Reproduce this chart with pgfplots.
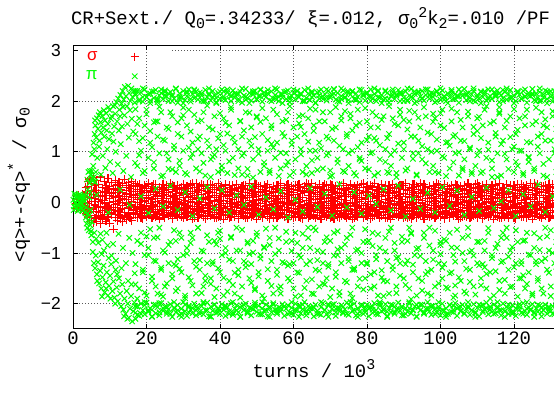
\documentclass[border=0pt]{standalone}
\usepackage{fontspec}
\setmainfont{Liberation Sans}
\newfontfamily\monofont{Liberation Mono}
\usepackage{pgfplots}
\pgfplotsset{compat=1.18}
\usepackage{pgfplotstable}

\definecolor{gpred}{RGB}{255,0,0}
\definecolor{gpgreen}{RGB}{0,255,0}

\newcommand\subs[1]{\raisebox{-3.5bp}{\fontsize{15}{15}\selectfont#1}}
\newcommand\sups[1]{\raisebox{7.5bp}{\fontsize{15}{15}\selectfont#1}}

% sigma mode centroid, six samples per half-turn step
\pgfplotstableread{
x r1 r2 r3 r4 r5 r6
1.0 -0.12 -0.03 0.06 0.13 nan nan
1.5 -0.09 0.01 0.08 0.15 nan nan
2.0 -0.14 -0.05 0.04 0.11 nan nan
2.5 -0.1 0.0 0.09 0.16 nan nan
3.0 -0.16 -0.06 0.05 0.14 nan nan
3.5 -0.22 -0.08 0.12 0.3 0.0 -0.15
4.0 -0.28 -0.02 0.18 0.41 -0.3 0.31
4.5 -0.19 -0.11 0.09 0.46 0.1 -0.26
5.0 -0.35 0.01 0.22 0.38 0.24 0.07
5.5 -0.4 -0.14 0.15 0.49 -0.12 0.22
6.0 -0.31 -0.05 0.07 0.33 0.36 -0.06
6.5 -0.38 -0.18 0.24 0.44 -0.18 0.35
7.0 -0.26 0.02 0.19 0.36 0.05 -0.2
7.5 -0.42 -0.09 0.11 0.5 -0.27 0.14
8.0 -0.33 -0.16 0.04 0.29 0.2 -0.31
8.5 -0.24 -0.01 0.21 0.42 -0.08 0.04
9.0 -0.37 -0.12 0.13 0.34 0.3 0.27
9.5 -0.29 -0.07 0.25 0.47 -0.14 -0.11
10.0 -0.41 0.0 0.08 0.31 0.13 0.19
10.5 -0.21 -0.15 0.17 0.39 -0.24 -0.24
11.0 -0.53 -0.1 0.2 0.27 0.02 0.11
11.5 -0.3 -0.04 0.1 0.43 0.26 0.33
12.0 -0.36 -0.17 0.23 0.35 -0.1 -0.02
12.5 -0.25 0.03 0.14 0.4 0.34 -0.17
13.0 -0.32 -0.13 0.06 0.3 -0.2 0.25
13.5 -0.38 -0.06 0.19 0.37 0.08 0.0
14.0 -0.27 -0.2 0.12 0.45 -0.29 -0.28
14.5 -0.34 -0.02 0.24 0.33 0.18 0.16
15.0 -0.23 -0.11 0.05 0.39 -0.03 0.29
15.5 -0.31 -0.08 0.16 0.28 0.28 -0.09
16.0 -0.36 0.01 0.22 0.41 -0.05 0.09
16.5 -0.2 -0.15 0.09 0.34 0.16 -0.21
17.0 -0.24 -0.09 0.13 0.31 -0.22 0.37
17.5 -0.3 0.0 0.06 0.25 0.33 -0.13
18.0 -0.18 -0.13 0.17 0.36 0.0 0.21
18.5 -0.27 -0.04 0.09 0.22 -0.3 -0.04
19.0 -0.32 -0.11 0.19 0.29 0.1 -0.15
19.5 -0.21 0.02 0.03 0.34 0.24 0.31
20.0 -0.29 -0.07 0.14 0.27 -0.12 -0.26
20.5 -0.16 -0.15 0.1 0.37 0.36 0.07
21.0 -0.25 -0.02 0.2 0.23 -0.18 0.22
21.5 -0.31 -0.1 0.05 0.32 0.05 -0.06
22.0 -0.19 -0.05 0.16 0.28 -0.27 0.35
22.5 -0.28 0.01 0.11 0.35 0.2 -0.2
23.0 -0.23 -0.14 0.07 0.21 -0.08 0.14
23.5 -0.33 -0.08 0.18 0.3 0.3 -0.31
24.0 -0.17 -0.01 0.12 0.26 -0.14 0.04
24.5 -0.26 -0.12 0.04 0.36 0.13 0.27
25.0 -0.3 -0.06 0.15 0.24 -0.24 -0.11
25.5 -0.2 -0.16 0.08 0.33 0.02 0.19
26.0 -0.27 0.0 0.19 0.29 0.26 -0.24
26.5 -0.22 -0.09 0.02 0.37 -0.1 0.11
27.0 -0.32 -0.03 0.13 0.22 0.34 0.33
27.5 -0.18 -0.13 0.1 0.31 -0.2 -0.02
28.0 -0.25 -0.07 0.17 0.27 0.08 -0.17
28.5 -0.29 0.02 0.06 0.34 -0.29 0.25
29.0 -0.16 -0.11 0.14 0.25 0.18 0.0
29.5 -0.24 -0.04 0.2 0.3 -0.03 -0.28
30.0 -0.31 -0.15 0.09 0.36 0.28 0.16
30.5 -0.21 -0.02 0.03 0.23 -0.05 0.29
31.0 -0.28 -0.1 0.16 0.32 0.16 -0.09
31.5 -0.19 -0.06 0.11 0.28 -0.22 0.09
32.0 -0.26 0.01 0.18 0.35 0.33 -0.21
32.5 -0.33 -0.12 0.05 0.21 0.0 0.37
33.0 -0.23 -0.08 0.13 0.29 -0.3 -0.13
33.5 -0.17 -0.14 0.08 0.37 0.1 0.21
34.0 -0.3 -0.03 0.19 0.26 0.24 -0.04
34.5 -0.25 -0.09 0.02 0.31 -0.12 -0.15
35.0 -0.2 0.0 0.15 0.24 0.36 0.31
35.5 -0.28 -0.16 0.1 0.33 -0.18 -0.26
36.0 -0.32 -0.05 0.07 0.27 0.05 0.07
36.5 -0.22 -0.11 0.17 0.36 -0.27 0.22
37.0 -0.18 -0.01 0.12 0.22 0.2 -0.06
37.5 -0.27 -0.13 0.04 0.3 -0.08 0.35
38.0 -0.24 -0.07 0.2 0.34 0.3 -0.2
38.5 -0.31 0.02 0.09 0.25 -0.14 0.14
39.0 -0.16 -0.1 0.14 0.29 0.13 -0.31
39.5 -0.29 -0.04 0.06 0.37 -0.24 0.04
40.0 -0.21 -0.15 0.18 0.23 0.02 0.27
40.5 -0.26 -0.06 0.11 0.32 0.26 -0.11
41.0 -0.33 -0.02 0.03 0.28 -0.1 0.19
41.5 -0.19 -0.12 0.16 0.35 0.34 -0.24
42.0 -0.25 -0.08 0.13 0.21 -0.2 0.11
42.5 -0.3 0.01 0.08 0.3 0.08 0.33
43.0 -0.17 -0.14 0.19 0.26 -0.29 -0.02
43.5 -0.23 -0.03 0.05 0.33 0.18 -0.17
44.0 -0.28 -0.09 0.15 0.24 -0.03 0.25
44.5 -0.2 -0.16 0.1 0.36 0.28 0.0
45.0 -0.32 0.0 0.17 0.29 -0.05 -0.28
45.5 -0.24 -0.11 0.02 0.22 0.16 0.16
46.0 -0.18 -0.05 0.12 0.31 -0.22 0.29
46.5 -0.27 -0.13 0.07 0.27 0.33 -0.09
47.0 -0.31 -0.01 0.2 0.34 0.0 0.09
47.5 -0.22 -0.07 0.14 0.25 -0.3 -0.21
48.0 -0.16 -0.15 0.04 0.37 0.1 0.37
48.5 -0.29 -0.04 0.18 0.23 0.24 -0.13
49.0 -0.25 0.02 0.09 0.3 -0.12 0.21
49.5 -0.2 -0.1 0.16 0.28 0.36 -0.04
50.0 -0.33 -0.06 0.11 0.35 -0.18 -0.15
50.5 -0.26 -0.12 0.03 0.21 0.05 0.31
51.0 -0.19 -0.02 0.19 0.32 -0.27 -0.26
51.5 -0.3 -0.14 0.13 0.26 0.2 0.07
52.0 -0.23 -0.08 0.06 0.33 -0.08 0.22
52.5 -0.17 0.01 0.15 0.24 0.3 -0.06
53.0 -0.28 -0.11 0.1 0.36 -0.14 0.35
53.5 -0.32 -0.05 0.17 0.29 0.13 -0.2
54.0 -0.21 -0.16 0.08 0.22 -0.24 0.14
54.5 -0.25 -0.03 0.2 0.31 0.02 -0.31
55.0 -0.18 -0.09 0.12 0.27 0.26 0.04
55.5 -0.31 0.0 0.05 0.34 -0.1 0.27
56.0 -0.27 -0.13 0.14 0.25 0.34 -0.11
56.5 -0.22 -0.07 0.02 0.37 -0.2 0.19
57.0 -0.16 -0.01 0.18 0.23 0.08 -0.24
57.5 -0.29 -0.15 0.11 0.3 -0.29 0.11
58.0 -0.24 -0.04 0.07 0.28 0.18 0.33
58.5 -0.33 -0.1 0.16 0.35 -0.03 -0.02
59.0 -0.2 0.02 0.13 0.21 0.28 -0.17
59.5 -0.26 -0.06 0.04 0.32 -0.05 0.25
60.0 -0.3 -0.12 0.19 0.26 0.16 0.0
60.5 -0.19 -0.02 0.09 0.33 -0.22 -0.28
61.0 -0.23 -0.14 0.15 0.24 0.33 0.16
61.5 -0.28 -0.08 0.06 0.36 0.0 0.29
62.0 -0.17 0.01 0.17 0.29 -0.3 -0.09
62.5 -0.32 -0.11 0.1 0.22 0.1 0.09
63.0 -0.25 -0.05 0.2 0.31 0.24 -0.21
63.5 -0.21 -0.16 0.03 0.27 -0.12 0.37
64.0 -0.3 -0.03 0.14 0.34 0.36 -0.13
64.5 -0.27 -0.09 0.08 0.25 -0.18 0.21
65.0 -0.18 0.0 0.18 0.37 0.05 -0.04
65.5 -0.24 -0.13 0.12 0.23 -0.27 -0.15
66.0 -0.31 -0.07 0.05 0.3 0.2 0.31
66.5 -0.2 -0.01 0.16 0.28 -0.08 -0.26
67.0 -0.26 -0.15 0.11 0.35 0.3 0.07
67.5 -0.33 -0.04 0.02 0.21 -0.14 0.22
68.0 -0.22 -0.1 0.19 0.32 0.13 -0.06
68.5 -0.16 0.02 0.13 0.26 -0.24 0.35
69.0 -0.29 -0.06 0.07 0.33 0.02 -0.2
69.5 -0.25 -0.12 0.15 0.24 0.26 0.14
70.0 -0.19 -0.02 0.09 0.36 -0.1 -0.31
70.5 -0.28 -0.14 0.2 0.29 0.34 0.04
71.0 -0.32 -0.08 0.04 0.22 -0.2 0.27
71.5 -0.23 0.01 0.17 0.31 0.08 -0.11
72.0 -0.17 -0.11 0.1 0.27 -0.29 0.19
72.5 -0.3 -0.05 0.14 0.34 0.18 -0.24
73.0 -0.26 -0.16 0.06 0.25 -0.03 0.11
73.5 -0.21 -0.03 0.18 0.37 0.28 0.33
74.0 -0.27 -0.09 0.12 0.23 -0.05 -0.02
74.5 -0.31 0.0 0.03 0.3 0.16 -0.17
75.0 -0.18 -0.13 0.16 0.28 -0.22 0.25
75.5 -0.24 -0.07 0.11 0.35 0.33 0.0
76.0 -0.33 -0.01 0.19 0.21 0.0 -0.28
76.5 -0.2 -0.15 0.08 0.32 -0.3 0.16
77.0 -0.25 -0.04 0.13 0.26 0.1 0.29
77.5 -0.29 -0.1 0.05 0.33 0.24 -0.09
78.0 -0.16 0.02 0.17 0.24 -0.12 0.09
78.5 -0.22 -0.06 0.1 0.36 0.36 -0.21
79.0 -0.3 -0.12 0.2 0.29 -0.18 0.37
79.5 -0.27 -0.02 0.07 0.22 0.05 -0.13
80.0 -0.19 -0.14 0.14 0.31 -0.27 0.21
80.5 -0.23 -0.08 0.02 0.27 0.2 -0.04
81.0 -0.32 0.01 0.15 0.34 -0.08 -0.15
81.5 -0.28 -0.11 0.12 0.25 0.3 0.31
82.0 -0.17 -0.05 0.18 0.37 -0.14 -0.26
82.5 -0.25 -0.16 0.09 0.23 0.13 0.07
83.0 -0.21 -0.03 0.04 0.3 -0.24 0.22
83.5 -0.31 -0.09 0.16 0.28 0.02 -0.06
84.0 -0.26 0.0 0.11 0.35 0.26 0.35
84.5 -0.18 -0.13 0.19 0.21 -0.1 -0.2
85.0 -0.3 -0.07 0.06 0.32 0.34 0.14
85.5 -0.24 -0.01 0.13 0.26 -0.2 -0.31
86.0 -0.2 -0.15 0.17 0.33 0.08 0.04
86.5 -0.33 -0.04 0.03 0.24 -0.29 0.27
87.0 -0.27 -0.1 0.1 0.36 0.18 -0.11
87.5 -0.16 0.02 0.2 0.29 -0.03 0.19
88.0 -0.22 -0.06 0.14 0.22 0.28 -0.24
88.5 -0.29 -0.12 0.08 0.31 -0.05 0.11
89.0 -0.25 -0.02 0.15 0.27 0.16 0.33
89.5 -0.19 -0.14 0.05 0.34 -0.22 -0.02
90.0 -0.31 -0.08 0.18 0.25 0.33 -0.17
90.5 -0.28 0.01 0.12 0.37 0.0 0.25
91.0 -0.23 -0.11 0.02 0.23 -0.3 0.0
91.5 -0.17 -0.05 0.16 0.3 0.1 -0.28
92.0 -0.32 -0.16 0.09 0.28 0.24 0.16
92.5 -0.26 -0.03 0.19 0.35 -0.12 0.29
93.0 -0.21 -0.09 0.13 0.21 0.36 -0.09
93.5 -0.3 0.0 0.06 0.32 -0.18 0.09
94.0 -0.24 -0.13 0.17 0.26 0.05 -0.21
94.5 -0.18 -0.07 0.11 0.33 -0.27 0.37
95.0 -0.27 -0.01 0.04 0.24 0.2 -0.13
95.5 -0.33 -0.15 0.2 0.36 -0.08 0.21
96.0 -0.2 -0.04 0.14 0.29 0.3 -0.04
96.5 -0.25 -0.1 0.07 0.22 -0.14 -0.15
97.0 -0.29 0.02 0.15 0.31 0.13 0.31
97.5 -0.16 -0.06 0.1 0.27 -0.24 -0.26
98.0 -0.22 -0.12 0.18 0.34 0.02 0.07
98.5 -0.31 -0.02 0.03 0.25 0.26 0.22
99.0 -0.26 -0.14 0.12 0.37 -0.1 -0.06
99.5 -0.19 -0.08 0.16 0.23 0.34 0.35
100.0 -0.28 0.01 0.08 0.3 -0.2 -0.2
100.5 -0.23 -0.11 0.19 0.28 0.08 0.14
101.0 -0.32 -0.05 0.13 0.35 -0.29 -0.31
101.5 -0.17 -0.16 0.05 0.21 0.18 0.04
102.0 -0.25 -0.03 0.17 0.32 -0.03 0.27
102.5 -0.3 -0.09 0.11 0.26 0.28 -0.11
103.0 -0.21 0.0 0.02 0.33 -0.05 0.19
103.5 -0.27 -0.13 0.14 0.24 0.16 -0.24
104.0 -0.18 -0.07 0.2 0.36 -0.22 0.11
104.5 -0.24 -0.01 0.09 0.29 0.33 0.33
105.0 -0.33 -0.15 0.15 0.22 0.0 -0.02
105.5 -0.2 -0.04 0.06 0.31 -0.3 -0.17
106.0 -0.29 -0.1 0.18 0.27 0.1 0.25
106.5 -0.26 0.02 0.12 0.34 0.24 0.0
107.0 -0.16 -0.06 0.04 0.25 -0.12 -0.28
107.5 -0.22 -0.12 0.16 0.37 0.36 0.16
108.0 -0.31 -0.02 0.1 0.23 -0.18 0.29
108.5 -0.28 -0.14 0.19 0.3 0.05 -0.09
109.0 -0.19 -0.08 0.07 0.28 -0.27 0.09
109.5 -0.25 0.01 0.13 0.35 0.2 -0.21
110.0 -0.3 -0.11 0.03 0.21 -0.08 0.37
110.5 -0.23 -0.05 0.17 0.32 0.3 -0.13
111.0 -0.17 -0.16 0.11 0.26 -0.14 0.21
111.5 -0.32 -0.03 0.2 0.33 0.13 -0.04
112.0 -0.27 -0.09 0.08 0.24 -0.24 -0.15
112.5 -0.21 0.0 0.14 0.36 0.02 0.31
113.0 -0.29 -0.13 0.05 0.29 0.26 -0.26
113.5 -0.24 -0.07 0.18 0.22 -0.1 0.07
114.0 -0.18 -0.01 0.12 0.31 0.34 0.22
114.5 -0.33 -0.15 0.02 0.27 -0.2 -0.06
115.0 -0.26 -0.04 0.16 0.34 0.08 0.35
115.5 -0.2 -0.1 0.09 0.25 -0.29 -0.2
116.0 -0.3 0.02 0.19 0.37 0.18 0.14
116.5 -0.22 -0.06 0.13 0.23 -0.03 -0.31
117.0 -0.16 -0.12 0.06 0.3 0.28 0.04
117.5 -0.28 -0.02 0.15 0.28 -0.05 0.27
118.0 -0.25 -0.14 0.1 0.35 0.16 -0.11
118.5 -0.31 -0.08 0.17 0.21 -0.22 0.19
119.0 -0.19 0.01 0.04 0.32 0.33 -0.24
119.5 -0.23 -0.11 0.2 0.26 0.0 0.11
120.0 -0.27 -0.05 0.11 0.33 -0.3 0.33
120.5 -0.32 -0.16 0.07 0.24 0.1 -0.02
121.0 -0.21 -0.03 0.14 0.36 0.24 -0.17
121.5 -0.17 -0.09 0.18 0.29 -0.12 0.25
122.0 -0.29 0.0 0.03 0.22 0.36 0.0
122.5 -0.26 -0.13 0.16 0.31 -0.18 -0.28
123.0 -0.2 -0.07 0.12 0.27 0.05 0.16
123.5 -0.3 -0.01 0.08 0.34 -0.27 0.29
124.0 -0.24 -0.15 0.19 0.25 0.2 -0.09
124.5 -0.18 -0.04 0.05 0.37 -0.08 0.09
125.0 -0.33 -0.1 0.15 0.23 0.3 -0.21
125.5 -0.27 0.02 0.1 0.3 -0.14 0.37
126.0 -0.22 -0.06 0.17 0.28 0.13 -0.13
126.5 -0.16 -0.12 0.02 0.35 -0.24 0.21
127.0 -0.28 -0.02 0.13 0.21 0.02 -0.04
127.5 -0.31 -0.14 0.2 0.32 0.26 -0.15
128.0 -0.25 -0.08 0.09 0.26 -0.1 0.31
128.5 -0.19 0.01 0.14 0.33 0.34 -0.26
129.0 -0.23 -0.11 0.06 0.24 -0.2 0.07
129.5 -0.3 -0.05 0.18 0.36 0.08 0.22
130.0 -0.26 -0.16 0.11 0.29 -0.29 -0.06
130.5 -0.2 -0.03 0.04 0.22 0.18 0.35
131.0 -0.32 -0.09 0.16 0.31 -0.03 -0.2
131.5 -0.17 0.0 0.12 0.27 0.28 0.14
132.0 -0.28 -0.13 0.19 0.34 -0.05 -0.31
132.5 -0.24 -0.07 0.08 0.25 0.16 0.04
133.0 -0.21 -0.01 0.15 0.37 -0.22 0.27
}\sigmatab

% pi mode centroid: t, b, f = outer bands; u, u2, l, l2 = inner orbits; e = extra
\pgfplotstableread{
x t b u l e u2 l2 f
17.0 2.12 -2.18 1.84 -1.62 2.2 1.35 -1.22 2.15
17.5 2.2 -2.05 1.55 -1.9 -2.22 0.72 -0.76 -2.06
18.0 2.03 -2.24 0.93 nan 1.21 1.66 -1.7 2.0
18.5 2.17 -2.0 nan -0.82 0.12 1.02 -0.6 -2.2
19.0 1.99 -2.13 1.27 -1.33 2.08 0.58 -1.38 2.25
19.5 2.23 -2.21 0.62 -1.78 -2.03 1.52 -1.04 -1.97
20.0 2.08 -1.98 1.74 nan -0.67 1.83 -1.84 2.08
20.5 2.14 -2.16 nan -1.04 -0.21 0.88 -0.9 -2.13
21.0 2.01 -2.09 1.41 -0.53 2.15 1.18 nan 1.96
21.5 2.19 -2.25 1.09 -1.47 -2.12 nan -1.55 -2.26
22.0 2.06 -2.02 0.79 -1.15 1.58 0.67 -0.7 2.19
22.5 2.22 -2.19 nan -1.66 0.27 1.6 -1.16 -2.02
23.0 1.98 -2.07 1.6 -0.69 2.02 1.3 -1.8 2.04
23.5 2.11 -2.23 1.89 nan -1.99 0.97 -0.5 -2.17
24.0 2.16 -1.99 0.51 -1.29 -1.82 1.78 -1.33 2.23
24.5 2.04 -2.14 1.24 -1.86 -0.08 0.53 -0.95 -2.09
25.0 2.21 -2.06 nan -0.99 2.18 1.22 -1.66 2.11
25.5 2.09 -2.2 0.97 -1.6 -2.16 1.48 nan -2.06
26.0 2.0 -2.11 1.45 -0.84 0.66 0.85 -1.2 2.15
26.5 2.18 -2.01 1.78 nan 0.33 nan -0.78 -2.2
27.0 2.13 -2.26 0.65 -1.42 2.1 1.7 -1.5 2.0
27.5 2.05 -2.08 1.12 -0.55 -2.09 1.05 -1.22 -1.97
28.0 2.24 -2.17 nan -1.75 -1.25 0.6 -0.76 2.25
28.5 1.97 -2.03 1.58 -1.12 -0.15 1.35 -1.7 -2.13
29.0 2.15 -2.22 0.82 -1.31 2.04 0.72 -0.6 2.08
29.5 2.07 -2.1 1.3 -0.7 -2.2 1.66 -1.38 -2.26
30.0 2.2 -1.97 1.87 nan 1.72 1.02 -1.04 1.96
30.5 2.02 -2.15 nan -1.89 0.2 0.58 -1.84 -2.02
31.0 2.1 -2.24 0.55 -1.01 2.16 1.52 -0.9 2.19
31.5 2.23 -2.04 1.08 -1.48 -2.06 1.83 nan -2.17
32.0 1.99 -2.12 1.4 -0.8 -0.6 0.88 -1.55 2.04
32.5 2.14 -2.19 0.96 -1.64 -0.27 1.18 -0.7 -2.09
33.0 2.06 -2.0 1.73 nan 2.21 nan -1.16 2.23
33.5 2.19 -2.23 nan -1.27 -2.13 0.67 -1.8 -2.06
34.0 2.03 -2.08 1.25 -0.5 1.05 1.6 -0.5 2.11
34.5 2.17 -2.16 0.61 -1.14 0.08 1.3 -1.33 -2.2
35.0 2.11 -2.05 1.62 -1.79 2.01 0.97 -0.95 2.15
35.5 2.0 -2.21 0.78 -0.97 -2.0 1.78 -1.66 -1.97
36.0 2.22 -2.13 nan -1.45 -1.55 0.53 nan 2.0
36.5 2.08 -1.98 1.91 -0.65 0.3 1.22 -1.2 -2.13
37.0 2.15 -2.25 1.1 nan 2.12 1.48 -0.78 2.25
37.5 2.01 -2.06 0.5 -1.61 -2.25 0.85 -1.5 -2.26
38.0 2.2 -2.14 1.44 -1.17 0.9 nan -1.22 2.08
38.5 2.12 -2.02 0.94 -1.87 -0.12 1.7 -0.76 -2.02
39.0 1.98 -2.18 nan -0.83 2.06 1.05 -1.7 1.96
39.5 2.16 -2.09 1.26 -1.3 -2.11 0.6 -0.6 -2.17
40.0 2.05 -2.2 1.76 -0.56 -0.72 1.35 -1.38 2.19
40.5 2.23 -2.01 0.64 nan 0.24 0.72 -1.04 -2.09
41.0 2.09 -2.12 1.13 -1.49 2.19 1.66 -1.84 2.04
41.5 2.02 -2.24 1.57 -1.0 -2.04 1.02 -0.9 -2.06
42.0 2.18 -2.07 nan -1.76 1.36 0.58 nan 2.23
42.5 2.13 -2.15 0.81 -1.13 -0.2 1.52 -1.55 -2.2
43.0 2.0 -1.99 1.88 -0.68 2.09 1.83 -0.7 2.11
43.5 2.21 -2.22 1.28 -1.63 -2.18 0.88 -1.16 -1.97
44.0 2.07 -2.1 0.54 nan -1.39 1.18 -1.8 2.15
44.5 2.14 -2.03 nan -0.95 0.14 nan -0.5 -2.13
45.0 2.04 -2.17 1.05 -1.44 2.14 0.67 -1.33 2.0
45.5 2.19 -2.26 1.61 -1.88 -2.07 1.6 -0.95 -2.26
46.0 1.97 -2.05 0.92 -0.54 0.55 1.3 -1.66 2.25
46.5 2.11 -2.13 1.42 -1.16 -0.05 0.97 nan -2.02
47.0 2.24 -2.0 nan -1.28 2.03 1.78 -1.2 2.08
47.5 2.06 -2.19 0.66 -0.81 -2.15 0.53 -0.78 -2.17
48.0 2.16 -2.08 1.77 nan -1.02 1.22 -1.5 1.96
48.5 2.01 -2.23 1.11 -1.59 0.31 1.48 -1.22 -2.09
49.0 2.13 -2.11 0.49 -0.99 2.17 0.85 -0.76 2.19
49.5 2.2 -1.98 1.29 -1.73 -2.02 nan -1.7 -2.06
50.0 2.03 -2.16 nan -0.66 1.68 1.7 -0.6 2.04
50.5 2.1 -2.04 0.96 -1.46 -0.24 1.05 -1.38 -2.2
51.0 2.22 -2.21 1.59 -1.11 2.1 0.6 -1.04 2.23
51.5 1.99 -2.09 1.86 nan -2.21 1.35 -1.84 -1.97
52.0 2.17 -2.14 0.79 -1.9 -0.88 0.72 -0.9 2.11
52.5 2.08 -2.02 nan -0.52 0.1 1.66 nan -2.13
53.0 2.15 -2.25 1.23 -1.32 2.22 1.02 -1.55 2.15
53.5 2.02 -2.06 0.63 -0.84 -2.09 0.58 -0.7 -2.26
54.0 2.19 -2.17 1.46 -1.65 1.15 1.52 -1.16 2.0
54.5 2.05 -1.99 1.08 nan -0.14 1.83 -1.8 -2.02
55.0 2.12 -2.12 nan -1.02 2.05 0.88 -0.5 2.25
55.5 2.23 -2.2 1.74 -1.43 -2.13 1.18 -1.33 -2.17
56.0 2.0 -2.07 0.52 -0.71 -1.7 nan -0.95 2.08
56.5 2.14 -2.15 0.98 -1.8 0.22 0.67 -1.66 -2.09
57.0 2.07 -2.01 1.37 -1.18 2.13 1.6 nan 1.96
57.5 2.18 -2.24 nan nan -2.05 1.3 -1.2 -2.06
58.0 2.04 -2.1 1.63 -0.58 0.73 0.97 -0.78 2.19
58.5 2.21 -2.03 0.8 -1.25 -0.3 1.78 -1.5 -2.2
59.0 1.98 -2.18 1.9 -1.55 2.08 0.53 -1.22 2.04
59.5 2.1 -2.08 1.14 -0.96 -2.19 1.22 -0.76 -1.97
60.0 2.16 -2.22 0.6 nan -1.2 1.48 -1.7 2.23
60.5 2.03 -2.0 nan -1.86 0.05 0.85 -0.6 -2.13
61.0 2.2 -2.13 1.3 -0.8 2.2 nan -1.38 2.11
61.5 2.08 -2.06 1.56 -1.39 -2.03 1.7 -1.04 -2.26
62.0 2.13 -2.19 0.95 -1.09 1.49 1.05 -1.84 2.15
62.5 2.0 -2.11 1.72 -0.62 -0.18 0.6 -0.9 -2.02
63.0 2.22 -1.97 nan -1.69 2.0 1.35 nan 2.0
63.5 2.06 -2.23 0.55 -1.22 -2.14 0.72 -1.55 -2.17
64.0 2.15 -2.05 1.2 nan -0.5 1.66 -0.7 2.25
64.5 2.02 -2.16 1.85 -0.9 0.28 1.02 -1.16 -2.09
65.0 2.19 -2.09 0.83 -1.52 2.16 0.58 -1.8 2.08
65.5 2.11 -2.25 1.41 -1.81 -2.08 1.52 -0.5 -2.06
66.0 1.97 -2.02 nan -0.55 1.02 1.83 -1.33 1.96
66.5 2.17 -2.14 0.64 -1.14 -0.09 0.88 -0.95 -2.2
67.0 2.05 -2.2 1.6 -1.35 2.11 1.18 -1.66 2.19
67.5 2.23 -2.07 1.07 nan -2.22 nan nan -1.97
68.0 2.09 -1.99 1.78 -0.98 -1.6 0.67 -1.2 2.04
68.5 2.14 -2.12 nan -1.62 0.17 1.6 -0.78 -2.13
69.0 2.01 -2.21 0.93 -0.69 2.07 1.3 -1.5 2.23
69.5 2.2 -2.04 1.26 -1.27 -2.01 0.97 -1.22 -2.26
70.0 2.07 -2.17 0.51 -1.87 0.63 1.78 -0.76 2.11
70.5 2.12 -2.1 1.45 nan -0.26 0.53 -1.7 -2.02
71.0 2.24 -2.01 nan -1.05 2.23 1.22 -0.6 2.15
71.5 2.03 -2.24 1.88 -1.47 -2.1 1.48 -1.38 -2.17
72.0 2.16 -2.08 0.78 -0.57 -0.93 0.85 -1.04 2.0
72.5 1.99 -2.15 1.12 -1.77 0.36 nan -1.84 -2.09
73.0 2.1 -2.03 1.62 -1.2 2.04 1.7 -0.9 2.25
73.5 2.21 -2.19 0.62 nan -2.17 1.05 nan -2.06
74.0 2.06 -2.11 nan -0.83 1.8 0.6 -1.55 2.08
74.5 2.18 -1.98 1.3 -1.58 -0.1 1.35 -0.7 -2.2
75.0 2.02 -2.22 0.97 -1.1 2.18 0.72 -1.16 1.96
75.5 2.13 -2.06 1.75 -0.64 -2.04 1.66 -1.8 -1.97
76.0 2.2 -2.14 1.42 -1.89 -1.33 1.02 -0.5 2.19
76.5 2.04 -2.0 nan -1.3 0.2 0.58 -1.33 -2.13
77.0 2.15 -2.23 0.53 nan 2.02 1.52 -0.95 2.04
77.5 2.08 -2.09 1.09 -0.93 -2.2 1.83 -1.66 -2.26
78.0 1.98 -2.16 1.57 -1.51 0.85 0.88 nan 2.23
78.5 2.22 -2.05 0.82 -1.0 -0.22 1.18 -1.2 -2.02
79.0 2.11 -2.2 nan -1.72 2.14 nan -0.78 2.11
79.5 2.01 -2.12 1.86 -0.53 -2.07 0.67 -1.5 -2.17
80.0 2.17 -2.02 1.23 -1.19 -0.78 1.6 -1.22 2.15
80.5 2.09 -2.25 0.65 nan 0.13 1.3 -0.76 -2.09
81.0 2.23 -2.07 1.48 -1.42 2.09 0.97 -1.7 2.0
81.5 2.05 -2.18 0.99 -0.86 -2.12 1.78 -0.6 -2.06
82.0 2.14 -1.99 nan -1.66 1.27 0.53 -1.38 2.25
82.5 2.0 -2.13 1.71 -1.12 -0.03 1.22 -1.04 -2.2
83.0 2.19 -2.21 0.58 -0.63 2.21 1.48 -1.84 2.08
83.5 2.07 -2.04 1.13 nan -2.0 0.85 -0.9 -1.97
84.0 2.12 -2.15 1.63 -1.34 -1.48 nan nan 1.96
84.5 2.03 -2.1 nan -1.85 0.26 1.7 -1.55 -2.13
85.0 2.21 -2.01 0.8 -0.97 2.05 1.05 -0.7 2.19
85.5 2.16 -2.24 1.27 -1.56 -2.16 0.6 -1.16 -2.26
86.0 1.97 -2.08 1.9 -0.58 0.58 1.35 -1.8 2.04
86.5 2.1 -2.17 0.94 nan -0.16 0.72 -0.5 -2.02
87.0 2.18 -2.03 nan -1.26 2.12 1.66 -1.33 2.23
87.5 2.04 -2.2 1.55 -0.8 -2.06 1.02 -0.95 -2.17
88.0 2.13 -2.11 0.5 -1.79 -1.1 0.58 -1.66 2.11
88.5 2.22 -1.98 1.16 -1.08 0.33 1.52 nan -2.09
89.0 2.0 -2.14 1.73 -1.45 2.17 1.83 -1.2 2.15
89.5 2.15 -2.06 nan -0.68 -2.23 0.88 -0.78 -2.06
90.0 2.07 -2.23 1.05 nan 1.63 1.18 -1.5 2.0
90.5 2.19 -2.09 0.63 -1.63 -0.28 nan -1.22 -2.2
91.0 2.02 -2.16 1.44 -1.15 2.0 0.67 -0.76 2.25
91.5 2.11 -2.0 1.81 -0.5 -2.09 1.6 -1.7 -1.97
92.0 2.24 -2.19 nan -1.91 -0.62 1.3 -0.6 2.08
92.5 2.06 -2.12 0.86 -1.23 0.07 0.97 -1.38 -2.13
93.0 2.14 -2.05 1.3 nan 2.19 1.78 -1.04 1.96
93.5 1.99 -2.25 0.55 -0.92 -2.02 0.53 -1.84 -2.26
94.0 2.17 -2.07 1.67 -1.5 0.97 1.22 -0.9 2.19
94.5 2.09 -2.13 nan -1.06 -0.13 1.48 nan -2.02
95.0 2.2 -2.02 1.11 -1.74 2.06 0.85 -1.55 2.04
95.5 2.01 -2.2 1.88 -0.6 -2.18 nan -0.7 -2.17
96.0 2.12 -2.1 0.77 nan -1.42 1.7 -1.16 2.23
96.5 2.23 -1.97 1.38 -1.37 0.19 1.05 -1.8 -2.09
97.0 2.05 -2.15 nan -0.85 2.13 0.6 -0.5 2.11
97.5 2.16 -2.22 1.0 -1.84 -2.05 1.35 -1.33 -2.06
98.0 2.08 -2.04 1.59 -1.13 1.75 0.72 -0.95 2.15
98.5 1.98 -2.11 0.6 -0.56 -0.2 1.66 -1.66 -2.2
99.0 2.19 -2.18 1.24 nan 2.2 1.02 nan 2.0
99.5 2.13 -2.06 nan -1.6 -2.11 0.58 -1.2 -1.97
100.0 2.03 -2.23 1.76 -1.02 -0.84 1.52 -0.78 2.25
100.5 2.21 -2.0 0.91 -1.29 0.3 1.83 -1.5 -2.13
101.0 2.1 -2.14 1.47 -0.73 2.03 0.88 -1.22 2.08
101.5 2.0 -2.09 0.52 -1.68 -2.21 1.18 -0.76 -2.26
102.0 2.15 -2.2 nan nan 1.19 nan -1.7 1.96
102.5 2.07 -2.03 1.12 -1.4 -0.07 0.67 -0.6 -2.02
103.0 2.22 -2.16 1.85 -0.89 2.15 1.6 -1.38 2.19
103.5 2.04 -2.12 0.79 -1.88 -2.04 1.3 -1.04 -2.17
104.0 2.14 -1.99 1.33 -1.17 -1.64 0.97 -1.84 2.04
104.5 2.09 -2.24 nan -0.54 0.23 1.78 -0.9 -2.09
105.0 1.97 -2.07 0.99 -1.48 2.09 0.53 nan 2.23
105.5 2.18 -2.15 1.63 nan -2.14 1.22 -1.55 -2.06
106.0 2.11 -2.02 0.64 -1.0 0.68 1.48 -0.7 2.11
106.5 2.24 -2.19 1.21 -1.76 -0.25 0.85 -1.16 -2.2
107.0 2.02 -2.1 nan -1.31 2.11 nan -1.8 2.15
107.5 2.16 -2.05 1.79 -0.66 -2.08 1.7 -0.5 -1.97
108.0 2.06 -2.22 1.08 -1.57 -0.98 1.05 -1.33 2.0
108.5 2.13 -2.13 0.56 nan 0.11 0.6 -0.95 -2.13
109.0 2.2 -2.01 1.49 -1.05 2.01 1.35 -1.66 2.25
109.5 1.99 -2.17 nan -1.82 -2.19 0.72 nan -2.26
110.0 2.12 -2.08 0.93 -0.78 1.41 1.66 -1.2 2.08
110.5 2.05 -2.25 1.69 -1.24 -0.17 1.02 -0.78 -2.02
111.0 2.19 -2.04 1.27 -1.64 2.18 0.58 -1.5 1.96
111.5 2.08 -2.14 0.61 nan -2.03 1.52 -1.22 -2.17
112.0 2.15 -2.11 nan -0.95 -1.28 1.83 -0.76 2.19
112.5 2.01 -1.98 1.9 -1.41 0.29 0.88 -1.7 -2.09
113.0 2.23 -2.21 1.04 -0.51 2.07 1.18 -0.6 2.04
113.5 2.1 -2.07 1.56 -1.9 -2.12 nan -1.38 -2.06
114.0 2.04 -2.16 0.83 -1.1 0.5 0.67 -1.04 2.23
114.5 2.17 -2.02 nan nan -0.11 1.6 -1.84 -2.2
115.0 2.09 -2.19 1.37 -1.36 2.14 1.3 -0.9 2.11
115.5 2.21 -2.09 0.5 -0.82 -2.06 0.97 nan -1.97
116.0 1.98 -2.13 1.75 -1.73 1.88 1.78 -1.55 2.15
116.5 2.12 -2.23 1.15 -1.18 0.02 0.53 -0.7 -2.13
117.0 2.06 -2.0 nan -0.6 2.22 1.22 -1.16 2.0
117.5 2.18 -2.15 0.96 -1.53 -2.15 1.48 -1.8 -2.26
118.0 2.03 -2.06 1.61 nan -0.7 0.85 -0.5 2.25
118.5 2.14 -2.2 0.66 -1.07 0.24 nan -1.33 -2.02
119.0 2.22 -2.1 1.29 -1.67 2.04 1.7 -0.95 2.08
119.5 2.07 -2.03 nan -0.88 -2.2 1.05 -1.66 -2.17
120.0 2.11 -2.17 1.84 -1.28 1.1 0.6 nan 1.96
120.5 2.0 -2.24 0.8 -0.55 -0.27 1.35 -1.2 -2.09
121.0 2.19 -2.05 1.43 -1.86 2.16 0.72 -0.78 2.19
121.5 2.13 -2.12 1.02 nan -2.01 1.66 -1.5 -2.06
122.0 2.05 -2.18 nan -1.16 -1.5 1.02 -1.22 2.04
122.5 2.2 -1.99 0.54 -1.44 0.16 0.58 -0.76 -2.2
123.0 2.08 -2.14 1.7 -0.75 2.1 1.52 -1.7 2.23
123.5 1.97 -2.22 1.19 -1.61 -2.1 1.83 -0.6 -1.97
124.0 2.16 -2.07 0.9 -1.03 0.8 0.88 -1.38 2.11
124.5 2.1 -2.11 nan nan -0.08 1.18 -1.04 -2.13
125.0 2.24 -2.01 1.54 -1.8 2.12 nan -1.84 2.15
125.5 2.02 -2.19 0.62 -0.61 -2.17 0.67 -0.9 -2.26
126.0 2.15 -2.09 1.87 -1.22 -1.16 1.6 nan 2.0
126.5 2.07 -2.16 1.1 -1.5 0.35 1.3 -1.55 -2.02
127.0 2.18 -2.04 nan -0.94 2.0 0.97 -0.7 2.25
127.5 2.01 -2.25 1.35 -1.7 -2.07 1.78 -1.16 -2.17
128.0 2.13 -2.13 0.76 nan 1.52 0.53 -1.8 2.08
128.5 2.21 -2.02 1.64 -1.11 -0.19 1.22 -0.5 -2.09
129.0 2.04 -2.2 0.5 -0.67 2.19 1.48 -1.33 1.96
129.5 2.17 -2.08 nan -1.39 -2.13 0.85 -0.95 -2.06
130.0 2.09 -2.15 1.22 -1.85 -0.55 nan -1.66 2.19
130.5 1.99 -2.05 1.8 -1.0 0.12 1.7 nan -2.2
131.0 2.2 -2.21 0.97 nan 2.08 1.05 -1.2 2.04
131.5 2.12 -2.1 1.45 -1.27 -2.02 0.6 -0.78 -1.97
132.0 2.06 -2.17 nan -0.59 1.3 1.35 -1.5 2.23
132.5 2.19 -2.0 0.66 -1.59 -0.1 0.72 -1.22 -2.13
133.0 2.03 -2.14 1.58 -1.14 2.17 1.66 -0.76 2.11
}\pitab

\tikzset{
  gpgrid/.style={black!65, dash pattern=on 1bp off 2bp, line width=0.8bp},
}
\pgfplotsset{
  sigmarks/.style={only marks, mark=+, mark size=4.2bp, draw=gpred, fill=gpred,
    color=gpred, mark options={solid, draw=gpred, line width=1.2bp}},
  pimarks/.style={only marks, mark=x, mark size=3.8bp, draw=gpgreen, fill=gpgreen,
    color=gpgreen, mark options={solid, draw=gpgreen, line width=1bp}},
}

\begin{document}
\begin{tikzpicture}[x=1bp,y=1bp]
\begin{axis}[
  at={(73bp,65bp)}, anchor=south west,
  scale only axis, width=514.5bp, height=283.6bp,
  xmin=0, xmax=140, ymin=-2.5, ymax=3.1,
  xtick={0,20,40,60,80,100,120},
  xticklabels={0,20,40,60,80,100,120},
  ytick={-2,-1,0,1,2},
  yticklabels={−2,−1,0,1,2},
  extra y ticks={3}, extra y tick labels={3},
  extra y tick style={grid=none},
  grid=major, grid style={gpgrid},
  axis on top,
  axis line style={black, line width=1bp},
  tick style={black, line width=1bp},
  tick align=inside, major tick length=5bp,
  xticklabel style={font=\monofont\fontsize{19}{19}\selectfont,
    anchor=base, yshift=-16bp},
  yticklabel style={font=\fontsize{17.5}{17.5}\selectfont,
    anchor=east, inner sep=0pt, xshift=-12bp},
  legend plot pos=right, legend cell align=right,
  legend style={draw=none, fill=none, at={(axis cs:2.1,3.06)},
    anchor=north west, font=\fontsize{17}{17}\selectfont,
    row sep=5bp, column sep=31bp},
]
% key entries
\addlegendimage{sigmarks}
\addlegendentry{\textcolor{gpred}{σ}}
\addlegendimage{pimarks}
\addlegendentry{\textcolor{gpgreen}{π}}

\addplot[sigmarks,forget plot] table[x=x,y=r1]{\sigmatab};
\addplot[sigmarks,forget plot] table[x=x,y=r2]{\sigmatab};
\addplot[sigmarks,forget plot] table[x=x,y=r3]{\sigmatab};
\addplot[sigmarks,forget plot] table[x=x,y=r4]{\sigmatab};
\addplot[sigmarks,forget plot] table[x=x,y=r5]{\sigmatab};
\addplot[sigmarks,forget plot] table[x=x,y=r6]{\sigmatab};

\addplot[pimarks,forget plot] table[x=x,y=t]{\pitab};
\addplot[pimarks,forget plot] table[x=x,y=b]{\pitab};
\addplot[pimarks,forget plot] table[x=x,y=f]{\pitab};
\addplot[pimarks,forget plot] table[x=x,y=u]{\pitab};
\addplot[pimarks,forget plot] table[x=x,y=u2]{\pitab};
\addplot[pimarks,forget plot] table[x=x,y=l]{\pitab};
\addplot[pimarks,forget plot] table[x=x,y=l2]{\pitab};
\addplot[pimarks,forget plot] table[x=x,y=e]{\pitab};
% first turns: start-up cluster and opening of the envelope
\addplot[pimarks,forget plot] coordinates {
(0.1,0.05)(0.3,-0.08)(0.5,0.12)(0.6,-0.02)(0.8,0.15)(0.9,-0.12)(1.1,0.03)(1.2,0.1)
(1.4,-0.06)(1.5,0.14)(1.7,-0.15)(1.8,0.0)(2.0,0.08)(2.1,-0.1)(2.3,0.13)(2.4,-0.04)
(2.6,0.06)(2.7,-0.16)(2.9,0.11)(3.0,-0.07)(3.2,0.02)(0.2,-0.15)(0.7,0.0)(1.3,-0.17)
(1.9,0.16)(2.5,-0.12)(3.1,0.15)(0.4,0.17)(1.0,-0.05)(1.6,0.07)(2.2,-0.02)(2.8,0.04)
(3.3,-0.2)(3.5,-0.3)(3.7,-0.42)(3.9,-0.5)(4.1,-0.35)(4.3,-0.55)(4.5,-0.25)(4.7,-0.45)
(4.9,-0.57)(5.1,-0.38)(3.6,-0.1)(4.0,-0.22)(4.4,0.1)(4.8,-0.15)
(3.9,0.45)(4.2,0.6)(4.5,0.38)(4.8,0.55)(5.1,0.62)(5.4,0.42)(5.7,0.5)(4.0,0.25)(4.6,0.2)
(5.6,1.18)(5.9,1.35)(6.1,1.52)(6.3,1.28)(6.5,1.66)(6.8,1.45)(7.0,1.72)(7.2,1.22)
(7.5,1.58)(7.7,1.38)(8.0,1.7)(8.2,1.48)(8.5,1.3)(8.7,1.62)(9.0,1.76)(9.2,1.42)
(9.5,1.55)(9.8,1.25)(10.0,1.82)(10.3,1.65)(10.6,1.36)(10.9,1.9)(11.2,1.5)(11.5,1.75)
(11.8,1.98)(12.0,1.6)(12.3,2.05)(12.6,1.83)(12.9,2.12)(13.2,1.95)(13.5,2.2)(13.8,2.03)
(14.1,2.28)(14.4,2.1)(14.7,1.9)(15.0,2.3)(15.3,2.16)(15.6,2.0)(15.9,2.25)(16.2,2.08)
(16.5,2.2)(16.8,1.97)(14.0,1.72)(15.5,1.82)(12.5,1.42)(11.0,1.2)
(6.0,1.62)(7.3,1.78)(8.4,1.82)(9.6,1.88)(10.5,1.7)(11.4,1.92)(12.8,1.7)(13.6,1.88)
(5.2,0.95)(5.5,0.72)(5.8,1.05)(6.2,0.6)(6.6,0.88)(7.1,1.1)(7.6,0.55)(8.1,0.92)
(8.8,0.68)(9.3,1.05)(10.1,0.8)(10.8,0.58)(11.6,1.0)(12.2,0.75)(13.0,1.15)(13.7,0.62)
(14.5,0.92)(15.2,1.28)(15.8,0.5)(16.4,1.4)(16.9,0.78)(13.3,1.5)(16.0,1.65)(14.8,1.55)
(4.6,0.62)(5.3,0.48)(6.0,0.4)
(5.0,-0.65)(5.4,-0.78)(5.8,-0.6)(6.3,-0.72)(6.9,-0.8)(7.5,-0.62)(8.0,-0.74)
(5.4,-0.98)(5.7,-1.2)(6.0,-1.3)(6.2,-1.05)(6.5,-1.42)(6.8,-1.18)(7.1,-1.6)(7.4,-1.35)
(7.7,-1.7)(8.0,-1.48)(8.3,-1.25)(8.6,-1.78)(8.9,-1.58)(9.2,-1.38)(9.5,-1.84)(9.8,-1.65)
(10.1,-1.45)(10.4,-1.22)(10.7,-1.75)(11.0,-1.56)(11.3,-1.88)(11.6,-1.33)(11.9,-1.68)
(12.2,-1.95)(12.5,-1.5)(12.8,-1.8)(13.1,-2.05)(13.4,-1.62)(13.7,-2.12)(14.0,-1.9)
(14.3,-2.2)(14.6,-1.75)(14.9,-2.0)(15.2,-2.28)(15.5,-2.1)(15.8,-1.85)(16.1,-2.35)
(16.4,-2.15)(16.7,-1.98)(17.0,-2.3)(16.9,-2.05)(15.0,-1.55)(13.2,-1.3)(10.5,-1.05)
(6.6,-1.55)(7.9,-1.86)(9.0,-1.7)(10.2,-1.9)(11.5,-2.0)(12.0,-1.42)(13.9,-2.25)(14.8,-2.3)
(8.4,-0.95)(9.1,-0.6)(9.7,-1.1)(10.9,-0.82)(11.7,-1.15)(12.4,-0.62)(13.6,-0.9)
(14.4,-1.2)(15.3,-0.7)(16.2,-1.0)(16.8,-1.4)(15.9,-1.62)(7.8,-1.02)(9.4,-0.85)
(6.4,0.15)(9.6,-0.2)(12.8,0.25)(15.4,-0.05)
};
% the y=3 grid line is interrupted by the key
\draw[gpgrid] (axis cs:27,3) -- (axis cs:140,3);
\end{axis}

\node[font=\monofont\fontsize{19}{19}\selectfont, anchor=base]
  at (310.5bp,369bp) {CR+Sext./ Q\subs{0}=.34233/ ξ=.012, σ\subs{0}\sups{2}k\subs{2}=.010 /PF};
\node[font=\monofont\fontsize{19}{19}\selectfont, anchor=base]
  at (314bp,17bp) {turns / 10\sups{3}};
\node[font=\monofont\fontsize{19}{19}\selectfont, anchor=base, rotate=90]
  at (26bp,209bp) {<q>+-<q>\sups{*} / σ\subs{0}};

\pgfresetboundingbox
\useasboundingbox (0,0) rectangle (554bp,394bp);
\end{tikzpicture}
\end{document}
